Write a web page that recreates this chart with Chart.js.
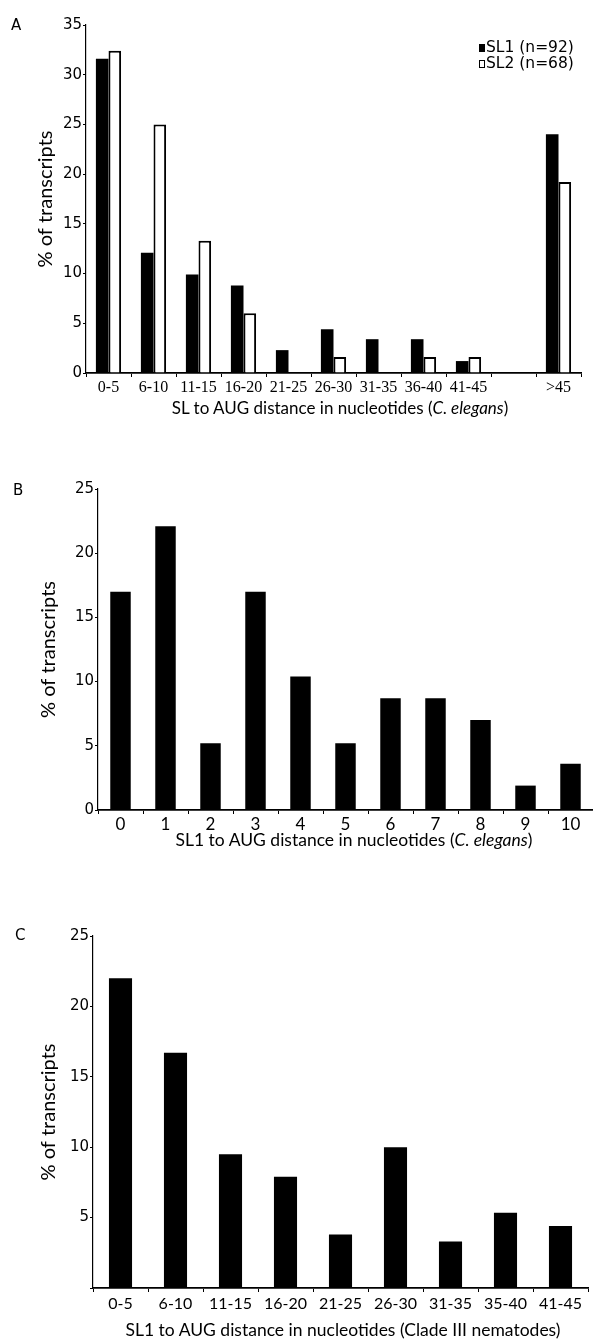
<!DOCTYPE html>
<html><head><meta charset="utf-8">
<script src="https://cdn.jsdelivr.net/npm/chart.js@4.4.1/dist/chart.umd.min.js"></script>
<style>
body{margin:0;background:#fff;}
#wrap{position:relative;width:593px;height:1339px;overflow:hidden;background:#fff;}
canvas{position:absolute;left:0;}
.t{position:absolute;white-space:nowrap;color:#000;line-height:20px;font-family:Lato,sans-serif;}
.c{transform:translateX(-50%);}
.lg{position:absolute;white-space:nowrap;font-family:'DejaVu Sans',sans-serif;font-size:15.5px;line-height:16px;color:#000;}
.sq{display:inline-block;width:6px;height:8px;margin-right:1px;vertical-align:0px;box-sizing:border-box;border:1.5px solid #000;}
</style></head><body><div id="wrap">
<canvas id="cA" width="593" height="400" style="top:0px"></canvas>
<canvas id="cB" width="593" height="390" style="top:440px"></canvas>
<canvas id="cC" width="593" height="420" style="top:900px"></canvas>

<div class="t" style="left:11px;top:15px;font-family:'DejaVu Sans';font-size:15px;">A</div>
<div class="t" style="left:13px;top:480px;font-family:'DejaVu Sans';font-size:15px;">B</div>
<div class="t" style="left:15px;top:925px;font-family:'DejaVu Sans';font-size:15px;">C</div>

<div class="lg" style="left:479px;top:39px;"><span class="sq" style="background:#000"></span>SL1 (n=92)</div>
<div class="lg" style="left:479px;top:55px;"><span class="sq" style="background:#fff"></span>SL2 (n=68)</div>

<div class="t c" style="left:340px;top:398px;font-size:17px;">SL to AUG distance in nucleotides (<i>C. elegans</i>)</div>
<div class="t c" style="left:354px;top:830px;font-size:17.5px;">SL1 to AUG distance in nucleotides (<i>C. elegans</i>)</div>
<div class="t c" style="left:343px;top:1320px;font-size:17.5px;">SL1 to AUG distance in nucleotides (Clade III nematodes)</div>
</div>
<script>
// ---- data ----
const catsA = ['0-5','6-10','11-15','16-20','21-25','26-30','31-35','36-40','41-45','','>45'];
const sl1A  = [31.6, 12.1, 9.9, 8.8, 2.3, 4.4, 3.4, 3.4, 1.2, 0, 24.0];
const sl2A  = [32.4, 25.0, 13.3, 6.0, 0, 1.6, 0, 1.6, 1.6, 0, 19.2];
const ticksA = [0,5,10,15,20,25,30,35];

const catsB = ['0','1','2','3','4','5','6','7','8','9','10'];
const sl1B  = [17.0, 22.1, 5.2, 17.0, 10.4, 5.2, 8.7, 8.7, 7.0, 1.9, 3.6];
const ticksB = [0,5,10,15,20,25];

const catsC = ['0-5','6-10','11-15','16-20','21-25','26-30','31-35','35-40','41-45'];
const sl1C  = [22.0, 16.7, 9.5, 7.9, 3.8, 10.0, 3.3, 5.35, 4.4];
const ticksC = ['', '5', '10', '15', '20', '25'];

const yTitle = '% of transcripts';

function yScale(max, width, titlePad, labelFn){
  return {
    min:0, max:max,
    ticks:{stepSize:5, color:'#000', font:{family:'DejaVu Sans', size:15}, padding:1,
      callback: labelFn},
    grid:{drawOnChartArea:false, drawTicks:true, tickLength:3, color:'#000', lineWidth:1},
    border:{display:true, color:'#000', width:1.2},
    title:{display:true, text:yTitle, color:'#000', font:{family:'Lato', size:20}, padding:{top:titlePad, bottom:0}},
    afterFit: s => { s.width = width; }
  };
}
function xScale(height, font, pad){
  return {
    grid:{display:true, drawOnChartArea:false, drawTicks:true, tickLength:4, color:'#000', lineWidth:1, offset:true},
    border:{display:true, color:'#000', width:1.8},
    ticks:{color:'#000', font:font, padding:pad, maxRotation:0, autoSkip:false},
    afterFit: s => { s.height = height; }
  };
}
const common = {responsive:false, animation:false, events:[],
  plugins:{legend:{display:false}, tooltip:{enabled:false}}};

new Chart(document.getElementById('cA'), {
  type:'bar',
  data:{labels:catsA, datasets:[
    {label:'SL1 (n=92)', data:sl1A, backgroundColor:'#000', borderWidth:0, categoryPercentage:0.56, barPercentage:1},
    {label:'SL2 (n=68)', data:sl2A, backgroundColor:'#fff', borderColor:'#000', borderWidth:2, categoryPercentage:0.56, barPercentage:1}
  ]},
  options:Object.assign({}, common, {
    layout:{padding:{left:0, right:12, top:25, bottom:0}},
    scales:{
      x: xScale(27, {family:'Liberation Sans Narrow', size:16}, 1),
      y: yScale(35, 86, 34, v => ticksA.includes(v) ? String(v) : '')
    }
  })
});

new Chart(document.getElementById('cB'), {
  type:'bar',
  data:{labels:catsB, datasets:[
    {label:'SL1', data:sl1B, backgroundColor:'#000', borderWidth:0, categoryPercentage:1, barPercentage:0.455}
  ]},
  options:Object.assign({}, common, {
    layout:{padding:{left:0, right:0, top:49, bottom:0}},
    scales:{
      x: xScale(20, {family:'Lato', size:17}, 0),
      y: yScale(25, 98, 37, v => ticksB.includes(v) ? String(v) : '')
    }
  })
});

new Chart(document.getElementById('cC'), {
  type:'bar',
  data:{labels:catsC, datasets:[
    {label:'SL1', data:sl1C, backgroundColor:'#000', borderWidth:0, categoryPercentage:1, barPercentage:0.42}
  ]},
  options:Object.assign({}, common, {
    layout:{padding:{left:0, right:5, top:36, bottom:0}},
    scales:{
      x: xScale(32, {family:'Lato', size:16}, 2),
      y: yScale(25, 93, 37, (v, i) => ticksC[i] !== undefined ? ticksC[i] : '')
    }
  })
});
</script>
</body></html>
